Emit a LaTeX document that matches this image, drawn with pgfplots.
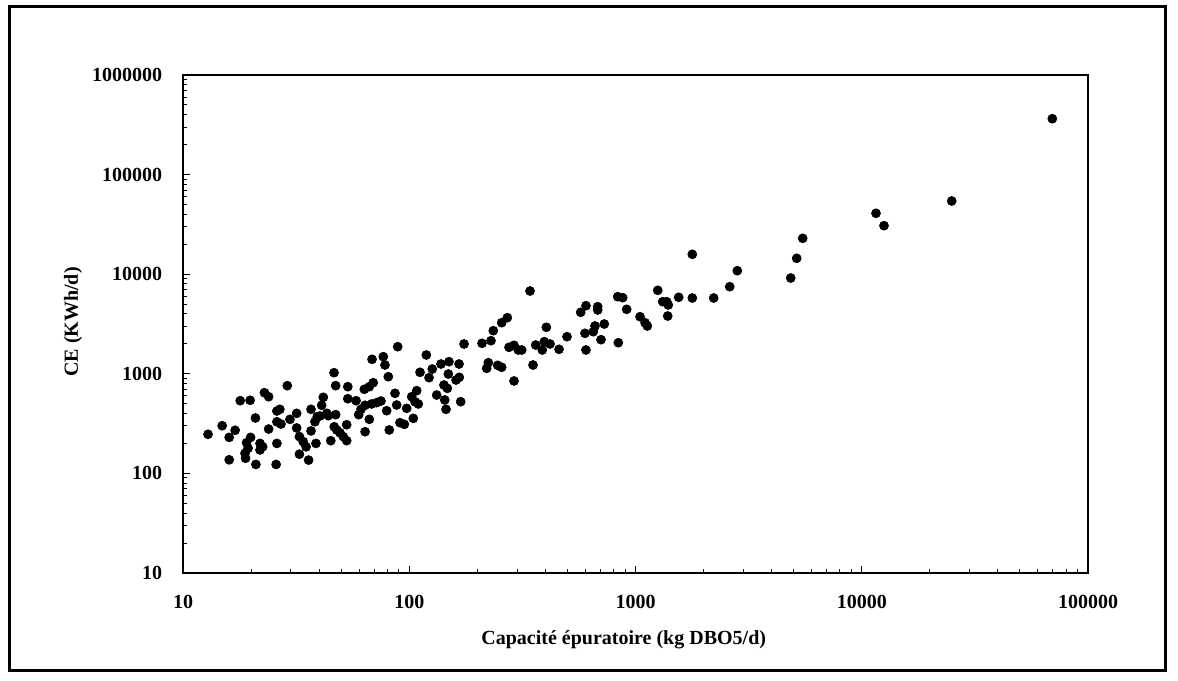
\documentclass[border=0pt]{standalone}
\usepackage{pgfplots}
\pgfplotsset{compat=1.18}
\usepackage{fontspec}
\setmainfont{Liberation Serif}

% Energy consumption vs. treatment capacity of wastewater plants
\pgfplotstableread{
cap ce
12.9 247
14.9 301
16.0 230
17.0 271
16.0 137
17.9 537
19.8 542
20.9 360
19.9 230
19.1 203
19.4 179
18.8 159
18.9 142
21.0 123
21.9 200
22.5 185
21.9 172
22.9 646
23.9 589
23.9 279
26.0 200
25.8 123
26.0 423
26.8 440
26.0 330
27.1 313
28.9 760
29.7 349
31.8 401
31.8 286
32.7 234
34.0 208
35.0 185
32.7 156
35.9 136
36.8 267
36.8 440
38.3 330
39.2 371
40.3 377
38.7 200
41.0 483
41.7 581
43.2 401
43.9 380
46.5 1026
47.3 760
47.3 389
46.6 294
47.8 273
45.0 213
49.4 256
51.1 234
52.9 213
52.9 308
53.5 742
53.5 562
58.2 537
59.8 389
61.2 440
63.8 483
63.3 699
66.6 742
69.3 814
68.5 1398
66.6 349
63.8 262
68.2 498
71.8 513
76.8 1485
78.1 1226
80.8 935
75.0 533
86.5 637
88.0 486
79.5 426
81.6 273
91.0 323
95.1 311
104.2 357
88.9 1871
97.4 450
102.5 589
106.0 525
107.9 677
109.6 498
111.6 1035
119.0 1545
122.3 914
126.4 1117
132.2 612
138.1 1254
149.8 1323
148.8 995
142.4 772
147.3 715
143.5 546
145.4 440
166.0 1254
161.0 866
166.4 922
168.8 525
174.6 1992
209.7 2024
229.8 2149
235.2 2709
256.2 3258
271.3 3658
223.6 1292
219.9 1135
246.0 1217
256.2 1163
290.4 847
276.0 1845
290.4 1932
303.4 1734
314.1 1734
341.8 6780
352.4 1226
362.2 1946
387.4 1734
395.4 2101
419.0 1992
403.5 2931
459.2 1762
498.1 2358
604.1 1734
572.5 4145
604.1 4828
598.0 2550
650.8 2647
662.2 3020
727.8 3162
680.7 4718
680.7 4371
704.0 2200
839.5 2052
834.3 5945
877.8 5810
914.3 4442
1047 3743
1102 3258
1128 3020
1254 6892
1319 5295
1374 5295
1396 4907
1388 3804
1552 5864
1783 15840
1783 5768
2216 5768
2609 7490
2818 10840
4853 9158
5158 14440
5483 22930
11560 40880
12540 30690
24980 54330
69540 364000
}\plantdata

\begin{document}
\begin{tikzpicture}
\useasboundingbox (0pt,0pt) rectangle (706.8pt,408pt);
% chart area frame
\draw[line width=1.8pt] (5.4pt,6pt) rectangle (699pt,403.8pt);
\begin{axis}[
  at={(109.8pt,64.2pt)}, anchor=south west,
  scale only axis,
  width=543pt, height=298.8pt,
  xmode=log, ymode=log,
  xmin=10, xmax=100000,
  ymin=10, ymax=1000000,
  font=\fontsize{12}{14}\selectfont\bfseries,
  xtick={10,100,1000,10000,100000},
  xticklabels={10,100,1000,10000,100000},
  ytick={10,100,1000,10000,100000,1000000},
  yticklabels={10,100,1000,10000,100000,1000000},
  xtick pos=bottom, ytick pos=left,
  tick align=inside,
  major tick length=4pt, minor tick length=2.5pt,
  every tick/.style={black, line width=0.6pt},
  axis line style={line width=0.9pt},
  xticklabel shift=10pt,
  yticklabel shift=9pt,
  tick label style={font=\fontsize{12}{14}\selectfont\bfseries},
  xlabel={Capacité épuratoire (kg DBO5/d)},
  ylabel={CE (KWh/d)},
  label style={font=\fontsize{12}{14}\selectfont\bfseries},
  xlabel style={at={(axis description cs:0.487,-0.1345)}, anchor=center},
  ylabel style={at={(axis description cs:-0.1215,0.504)}, anchor=center},
  clip=false,
]
\addplot[only marks, mark=*, mark size=2.7pt, black] table[x=cap, y=ce] {\plantdata};
\end{axis}
\end{tikzpicture}
\end{document}
